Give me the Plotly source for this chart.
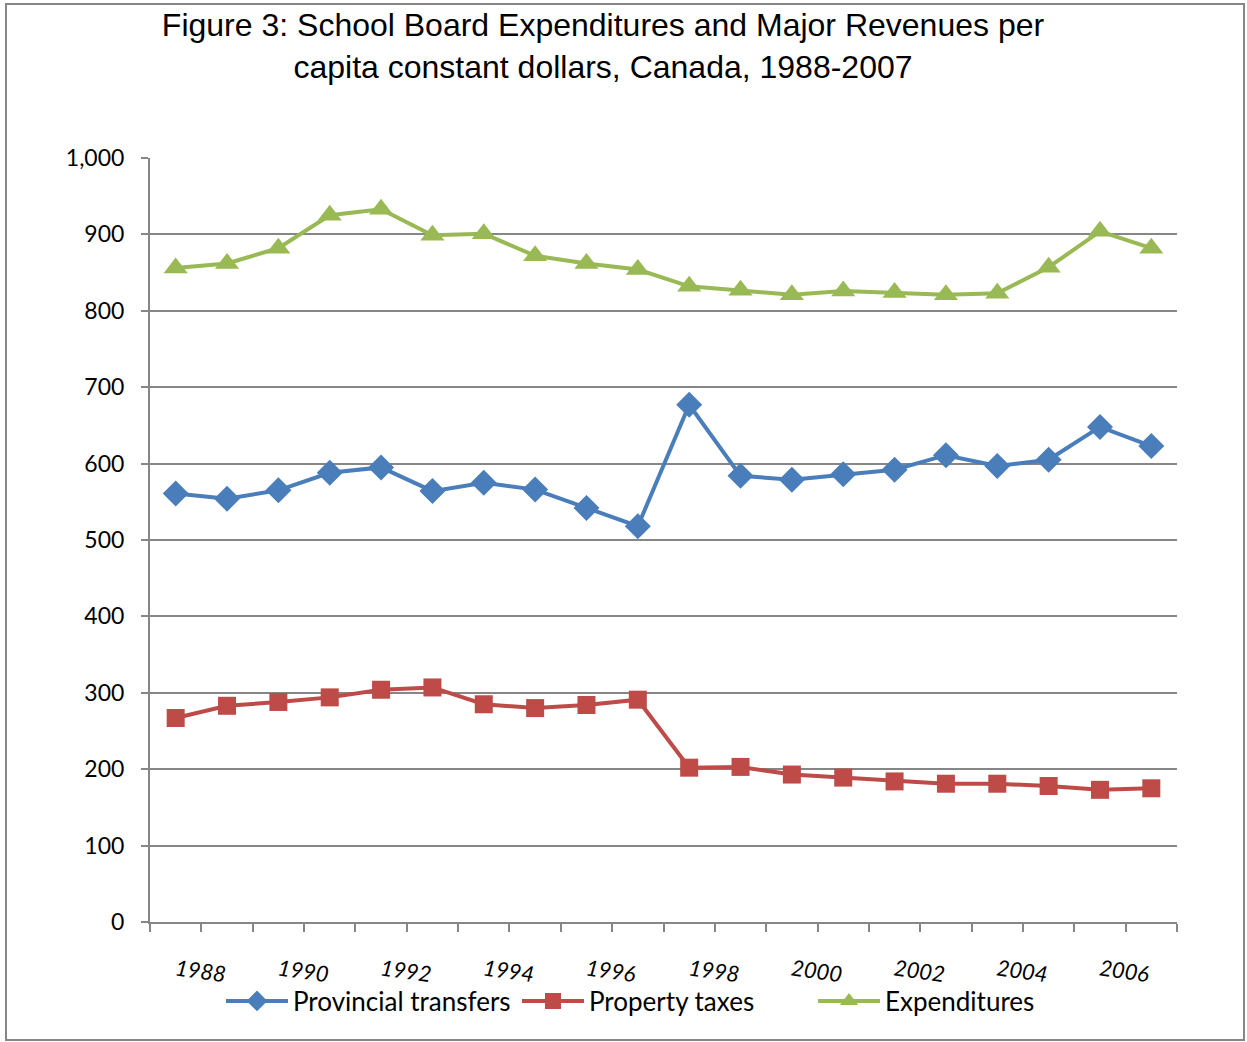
import plotly.graph_objects as go

years = list(range(1988, 2008))
provincial_transfers = [561, 554, 565, 588, 595, 564, 575, 566, 542, 518,
                        677, 584, 579, 586, 592, 611, 597, 605, 648, 623]
property_taxes = [267, 283, 288, 294, 304, 307, 285, 280, 284, 291,
                  202, 203, 193, 189, 184, 181, 181, 178, 173, 175]
expenditures = [856, 862, 882, 925, 933, 899, 901, 872, 862, 854,
                832, 827, 821, 826, 824, 821, 823, 857, 904, 882]
label_years = [1988, 1990, 1992, 1994, 1996, 1998, 2000, 2002, 2004, 2006]
y_ticks = [0, 100, 200, 300, 400, 500, 600, 700, 800, 900, 1000]

W, H = 1247, 1042
L, R, T, B = 150, 70, 158, 120
pw, ph = W - L - R, H - T - B

def px_x(p):
    return (p - L) / pw

def px_y(p):
    return (H - B - p) / ph

fig = go.Figure()
fig.add_trace(go.Scatter(x=years, y=provincial_transfers, name="Provincial transfers",
                         mode="lines+markers",
                         line=dict(color="#4A7EBB", width=4),
                         marker=dict(symbol="diamond", size=20, color="#4A7EBB")))
fig.add_trace(go.Scatter(x=years, y=property_taxes, name="Property taxes",
                         mode="lines+markers",
                         line=dict(color="#BE4B48", width=4),
                         marker=dict(symbol="square", size=18, color="#BE4B48")))
fig.add_trace(go.Scatter(x=years, y=expenditures, name="Expenditures",
                         mode="lines+markers",
                         line=dict(color="#98B954", width=4),
                         marker=dict(symbol="triangle-up", size=21, color="#98B954")))

fig.update_layout(
    width=W, height=H,
    margin=dict(l=L, r=R, t=T, b=B),
    paper_bgcolor="white", plot_bgcolor="white",
    showlegend=True,
    title=dict(
        text="Figure 3: School Board Expenditures and Major Revenues per<br>capita constant dollars, Canada, 1988-2007",
        font=dict(family="Liberation Sans, Arial, sans-serif", size=32, color="#000000"),
        x=603 / W, xanchor="center", xref="container",
        y=1 - 36 / H, yanchor="top", yref="container",
    ),
    xaxis=dict(
        range=[1987.5, 2007.5],
        tickmode="array", tickvals=label_years, ticktext=[str(y) for y in label_years],
        ticks="", tickangle=8,
        tickfont=dict(family="Lato, Open Sans, sans-serif", size=22, color="#000000", style="italic"),
        ticklabelstandoff=25,
        showgrid=False, zeroline=False,
        showline=True, linecolor="#868686", linewidth=2,
        minor=dict(tickmode="linear", tick0=1987.5, dtick=1, ticks="outside",
                   ticklen=8, tickwidth=2, tickcolor="#868686", showgrid=False),
    ),
    yaxis=dict(
        range=[0, 1000],
        tickmode="array", tickvals=y_ticks, tickformat=",d",
        ticks="outside", ticklen=7, tickwidth=2, tickcolor="#868686",
        tickfont=dict(family="Lato, Open Sans, sans-serif", size=23, color="#000000"),
        ticklabelstandoff=12,
        showgrid=True, gridcolor="#868686", gridwidth=1.5,
        zeroline=False,
        showline=True, linecolor="#868686", linewidth=2,
    ),
    legend=dict(
        orientation="h", x=px_x(665), xanchor="center",
        y=px_y(1001), yanchor="middle",
        font=dict(family="Lato, Open Sans, sans-serif", size=26, color="#000000"),
        bgcolor="rgba(0,0,0,0)", tracegroupgap=0, itemwidth=62,
        entrywidth=219, entrywidthmode="pixels",
    ),
    shapes=[dict(type="rect", xref="paper", yref="paper",
                 x0=px_x(6), x1=px_x(1244), y0=px_y(1040), y1=px_y(4),
                 line=dict(color="#868686", width=2), layer="below")],
)

fig.write_html("out.html", config={"displayModeBar": False},
               post_script="document.body.style.margin='0';")
